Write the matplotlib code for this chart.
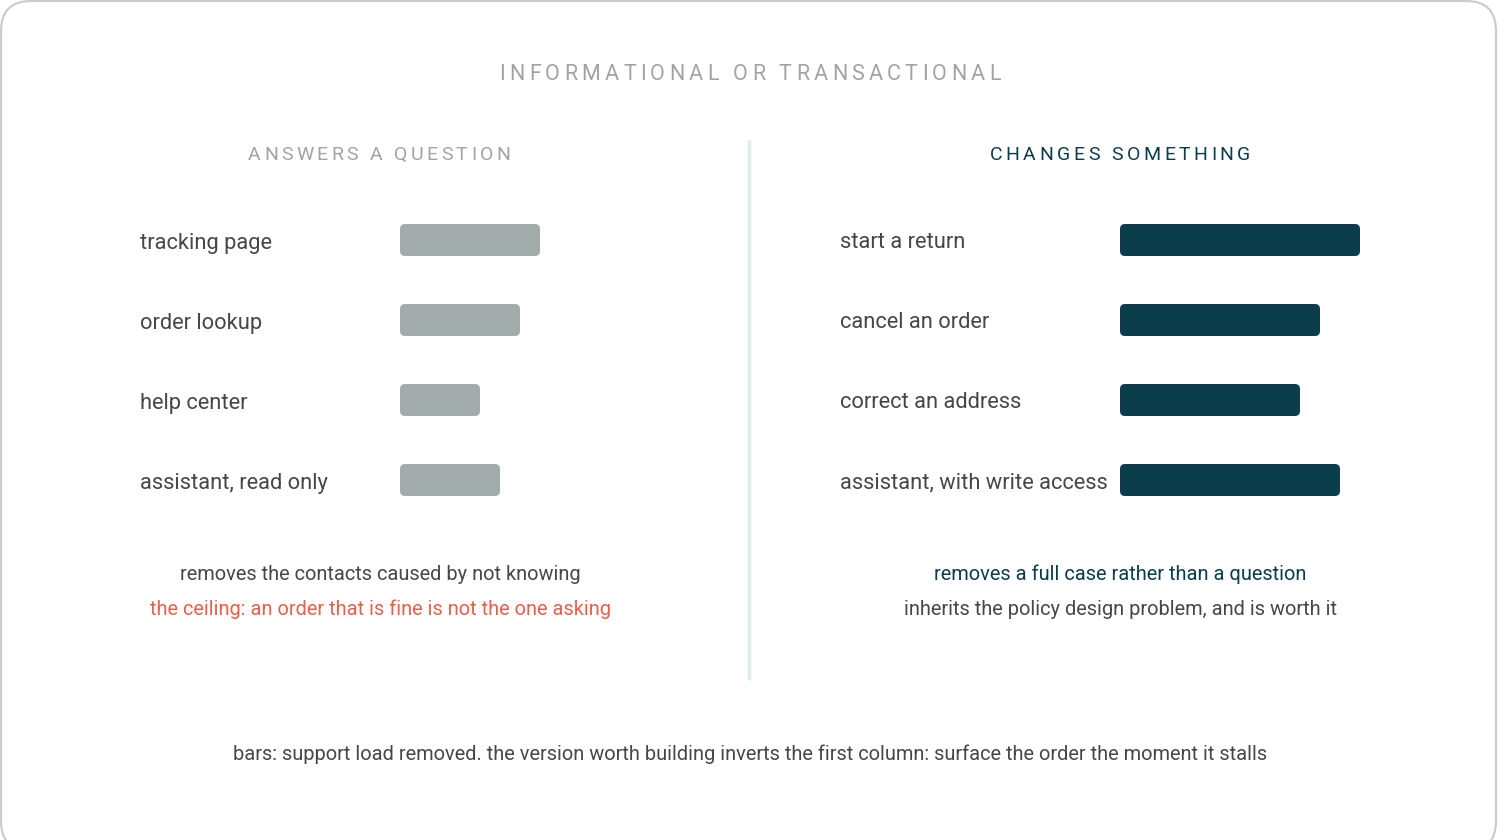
import matplotlib
matplotlib.use("Agg")
import matplotlib.pyplot as plt
from matplotlib.patches import FancyBboxPatch
from matplotlib.font_manager import FontProperties

plt.rcParams["font.family"] = ["Roboto", "DejaVu Sans"]

TITLE = "INFORMATIONAL OR TRANSACTIONAL"
FOOTER = ("bars: support load removed. the version worth building inverts the first column: "
          "surface the order the moment it stalls")

left_header = "ANSWERS A QUESTION"
left_labels = ["tracking page", "order lookup", "help center", "assistant, read only"]
left_values = [7, 6, 4, 5]
left_notes = ["removes the contacts caused by not knowing",
              "the ceiling: an order that is fine is not the one asking"]

right_header = "CHANGES SOMETHING"
right_labels = ["start a return", "cancel an order", "correct an address", "assistant, with write access"]
right_values = [12, 10, 9, 11]
right_notes = ["removes a full case rather than a question",
               "inherits the policy design problem, and is worth it"]

GREY_BAR = "#a2acaa"
TEAL = "#0b3d4c"
TEXT = "#474747"
MUTED = "#a3a3a3"
RED = "#e8604c"
UNIT = 20  # pixels per unit of load

fig = plt.figure(figsize=(15, 8.4), dpi=100)
ax = fig.add_axes([0, 0, 1, 1])
ax.set_xlim(0, 1500)
ax.set_ylim(840, 0)
ax.axis("off")

# card outline
ax.add_patch(FancyBboxPatch((1, 1), 1495, 850, boxstyle="round,pad=0,rounding_size=30",
                            facecolor="white", edgecolor="#c9cecd", linewidth=1.6, zorder=0))

renderer = fig.canvas.get_renderer()


def spaced_text(x, y, s, size, color, spacing):
    # letter-spaced caps, y is the baseline
    fp = FontProperties(family="Roboto", size=size)
    widths = []
    for ch in s:
        if ch == " ":
            w_pair = renderer.get_text_width_height_descent("A A", fp, ismath=False)[0]
            w_two = renderer.get_text_width_height_descent("AA", fp, ismath=False)[0]
            widths.append(w_pair - w_two)
        else:
            widths.append(renderer.get_text_width_height_descent(ch, fp, ismath=False)[0])
    total = sum(widths) + spacing * (len(s) - 1)
    cx = x - total / 2
    for ch, w in zip(s, widths):
        ax.text(cx, y, ch, fontproperties=fp, color=color, ha="left", va="baseline")
        cx += w + spacing


def column(labels, values, bar_color, label_x, bar_x):
    rows = [240 + 80 * i for i in range(len(labels))]
    bars = ax.barh(rows, [v * UNIT for v in values], left=bar_x, height=32, color=bar_color)
    for b in bars:
        b.set_visible(False)
        ax.add_patch(FancyBboxPatch((b.get_x(), b.get_y()), b.get_width(), b.get_height(),
                                    boxstyle="round,pad=0,rounding_size=5",
                                    facecolor=bar_color, edgecolor="none"))
    for lab, r in zip(labels, rows):
        ax.text(label_x, r + 8.5, lab, fontsize=15.75, color=TEXT, ha="left", va="baseline")


spaced_text(750, 80, TITLE, 15.5, MUTED, 4.3)

# left column
spaced_text(379, 160, left_header, 14, MUTED, 3.35)
column(left_labels, left_values, GREY_BAR, 140, 400)
ax.text(380, 580, left_notes[0], fontsize=14.4, color=TEXT, ha="center", va="baseline")
ax.text(380, 615, left_notes[1], fontsize=14.4, color=RED, ha="center", va="baseline")

# divider
ax.plot([749, 749], [140, 680], color="#dcecef", linewidth=2.5, solid_capstyle="butt")

# right column
spaced_text(1120, 160, right_header, 14, TEAL, 3.5)
column(right_labels, right_values, TEAL, 840, 1120)
ax.text(1120, 580, right_notes[0], fontsize=14.4, color=TEAL, ha="center", va="baseline")
ax.text(1120, 615, right_notes[1], fontsize=14.4, color=TEXT, ha="center", va="baseline")

ax.text(750, 760, FOOTER, fontsize=14.4, color=TEXT, ha="center", va="baseline")

fig.savefig("out.png", dpi=100, facecolor="white")
